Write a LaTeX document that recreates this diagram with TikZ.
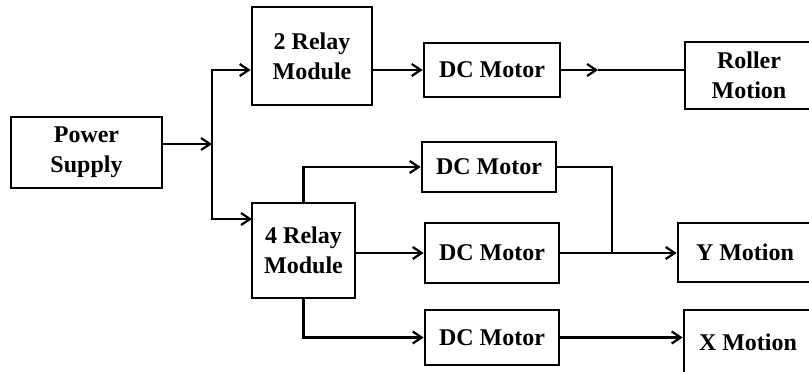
\documentclass[tikz,border=0pt]{standalone}
\usepackage{fontspec}
\setmainfont{Liberation Serif}
\usetikzlibrary{arrows.meta}
\begin{document}
\begin{tikzpicture}[x=1pt,y=-1pt,
  blk/.style={draw, line width=2.6pt, rectangle, inner sep=0pt, align=center,
    font=\fontsize{24}{30}\selectfont\bfseries},
  arr/.style={line width=2.2pt, -{Straight Barb[length=9pt,width=12pt,line width=2.2pt]}},
  ln/.style={line width=2.2pt}]
\useasboundingbox (0,0) rectangle (809,372);
\clip (0,0) rectangle (809,372);
\fill[white] (0,0) rectangle (809,372);
% nodes
\node[blk, minimum width=151pt, minimum height=71pt] (ps) at (86.5,152.5) {Power\\Supply};
\node[blk, minimum width=120pt, minimum height=98pt] (r2) at (312,56) {2 Relay\\Module};
\node[blk, minimum width=136pt, minimum height=54pt] (dc1) at (492,70) {DC Motor};
\node[blk, minimum width=128pt, minimum height=67pt] (rm) at (749,75.5) {Roller\\Motion};
\node[blk, minimum width=103pt, minimum height=95pt] (r4) at (303.5,250.5) {4 Relay\\Module};
\node[blk, minimum width=134pt, minimum height=50pt] (dca) at (489,167) {DC Motor};
\node[blk, minimum width=134pt, minimum height=60pt] (dcb) at (492,253) {DC Motor};
\node[blk, minimum width=134pt, minimum height=55pt] (dcc) at (492,337.5) {DC Motor};
\node[blk, minimum width=134pt, minimum height=59pt] (ym) at (745,252.5) {Y Motion};
\node[blk, minimum width=128pt, minimum height=64pt] (xm) at (748,342) {X Motion};
% coordinates
\coordinate (j) at (212,144);
\coordinate (a4) at (252,219);
\coordinate (m1) at (598,70);
\coordinate (jy) at (612,253);
% connectors
\draw[arr] (ps.east |- j) -- (j);
\draw[ln] (j |- dc1.west) -- (j |- a4);
\draw[arr] (j) |- (r2.west |- dc1.west);
\draw[arr] (j) |- (a4);
\draw[arr] (r2.east |- dc1.west) -- (dc1.west);
\draw[arr] (dc1.east) -- (m1);
\draw[ln] (m1) -- (rm.west |- m1);
\draw[arr] (r4.north) |- (dca.west);
\draw[arr] (r4.east |- dcb.west) -- (dcb.west);
\draw[arr] (r4.south) |- (dcc.west);
\draw[ln] (dca.east) -| (jy);
\draw[arr] (dcb.east) -- (ym.west |- dcb.east);
\draw[arr] (dcc.east) -- (xm.west |- dcc.east);
\end{tikzpicture}
\end{document}
